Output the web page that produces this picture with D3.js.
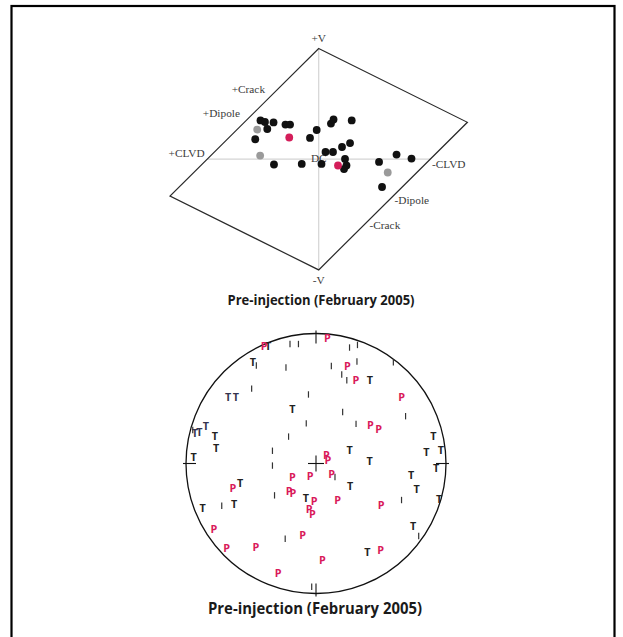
<!DOCTYPE html>
<html>
<head>
<meta charset="utf-8">
<script src="https://cdn.jsdelivr.net/npm/d3@7"></script>
<style>
  html, body { margin: 0; padding: 0; background: #fff; }
  svg { display: block; }
</style>
</head>
<body>
<svg id="chart" width="623" height="637"></svg>
<script>
// ---------- Hudson source-type plot data (u, v) ----------
const diamondCorners = [[0, 1], [4/3, 1/3], [0, -1], [-4/3, -1/3]];
const hudsonAxes = [[[0, 1], [0, -1]], [[-1, 0], [1, 0]]];
const hudsonLabels = [
  { text: "+V", u: 0, v: 1.06, anchor: "middle" },
  { text: "-V", u: 0, v: -1.125, anchor: "middle" },
  { text: "+Crack", u: -0.481, v: 0.598, anchor: "end" },
  { text: "+Dipole", u: -0.706, v: 0.377, anchor: "end" },
  { text: "+CLVD", u: -1.023, v: 0.020, anchor: "end" },
  { text: "-CLVD", u: 1.016, v: -0.075, anchor: "start" },
  { text: "-Dipole", u: 0.680, v: -0.405, anchor: "start" },
  { text: "-Crack", u: 0.456, v: -0.631, anchor: "start" },
  { text: "DC", u: -0.07, v: -0.025, anchor: "start" }
];
const hudsonBlackU = [-0.522, -0.482, -0.405, -0.461, -0.569, -0.298, -0.257, -0.078, -0.018, 0.110, 0.133, 0.296, 0.281, 0.209, 0.061, 0.128, -0.401, -0.152, 0.025, 0.236, 0.249, 0.227, 0.541, 0.698, 0.832, 0.568];
const hudsonBlackV = [0.350, 0.336, 0.332, 0.273, 0.180, 0.313, 0.313, 0.192, 0.264, 0.322, 0.359, 0.350, 0.146, 0.110, 0.065, 0.065, -0.048, -0.043, -0.043, 0.002, -0.057, -0.089, -0.025, 0.042, 0.006, -0.251];
const hudsonRedU = [-0.264, 0.173];
const hudsonRedV = [0.196, -0.057];
const hudsonGrayU = [-0.551, -0.525, 0.619];
const hudsonGrayV = [0.268, 0.033, -0.120];

// ---------- Stereonet (P / T axes) data, normalised to unit circle ----------
const tAxesX = [-0.486, -0.182, 0.414, -0.777, -0.769, -0.942, 0.258, 0.412, 0.902, 0.850, 0.960, 0.925, 0.732, 0.775, 0.948, 0.263, -0.077, -0.583, -0.872, -0.629, 0.748, 0.395, -0.368];
const tAxesY = [0.777, 0.422, 0.642, 0.212, 0.115, 0.048, 0.100, 0.017, 0.214, 0.087, 0.104, -0.038, -0.093, -0.199, -0.277, -0.171, -0.265, -0.152, -0.342, -0.310, -0.481, -0.685, 0.900];
const tNavyX = [-0.675, -0.616, -0.932, -0.898, -0.848];
const tNavyY = [0.508, 0.508, 0.237, 0.242, 0.284];
const pAxesX = [-0.398, 0.088, 0.241, 0.306, 0.658, 0.419, 0.482, 0.079, 0.092, 0.121, -0.046, -0.182, -0.640, -0.206, -0.177, -0.015, -0.052, -0.028, 0.167, 0.502, -0.102, -0.785, -0.688, -0.463, 0.498, 0.050, -0.291];
const pAxesY = [0.900, 0.964, 0.746, 0.640, 0.508, 0.298, 0.266, 0.067, 0.027, -0.078, -0.096, -0.108, -0.187, -0.216, -0.230, -0.290, -0.352, -0.388, -0.281, -0.319, -0.552, -0.504, -0.652, -0.644, -0.667, -0.745, -0.845];
const bAxesX = [-0.200, -0.135, -0.459, -0.231, 0.118, 0.258, 0.319, 0.315, 0.198, 0.237, 0.595, -0.495, -0.058, 0.205, 0.689, -0.075, 0.308, -0.211, -0.335, -0.948, -0.335, -0.319, -0.725, -0.237, 0.658, 0.790, -0.033, 0.146];
const bAxesY = [0.919, 0.919, 0.754, 0.738, 0.750, 0.892, 0.912, 0.785, 0.685, 0.640, 0.778, 0.576, 0.531, 0.396, 0.364, 0.309, 0.305, 0.207, 0.098, 0.258, -0.016, -0.245, -0.325, -0.579, -0.281, -0.558, -0.948, -0.104];
const compassDirs = [[0, 1], [1, 0], [0, -1], [-1, 0]];

const titles = ["Pre-injection (February 2005)", "Pre-injection (February 2005)"];

// ---------- Drawing ----------
const svg = d3.select("#chart");

// outer frame
svg.append("rect")
  .attr("x", 11.5).attr("y", 6)
  .attr("width", 603).attr("height", 640)
  .attr("fill", "none").attr("stroke", "#000").attr("stroke-width", 2.2);

// Hudson scales
const xH = d3.scaleLinear().domain([-4/3, 4/3]).range([170.0, 467.4]);
const yH = d3.scaleLinear().domain([-1, 1]).range([269.9, 48.5]);
const gH = svg.append("g");

const lineH = d3.line().x(d => xH(d[0])).y(d => yH(d[1]));
hudsonAxes.forEach(seg => {
  gH.append("path").attr("d", lineH(seg))
    .attr("fill", "none").attr("stroke", "#d4d4d4").attr("stroke-width", 1.2);
});
gH.append("path").attr("d", lineH(diamondCorners) + "Z")
  .attr("fill", "none").attr("stroke", "#2a2a2a").attr("stroke-width", 1.2);

gH.selectAll("text.hl").data(hudsonLabels).join("text")
  .attr("class", "hl")
  .attr("x", d => xH(d.u)).attr("y", d => yH(d.v))
  .attr("text-anchor", d => d.anchor)
  .attr("font-family", "'Liberation Serif', 'DejaVu Serif', serif")
  .attr("font-size", 11.3)
  .attr("fill", "#3a3a3a")
  .text(d => d.text);

function dots(us, vs, color) {
  gH.selectAll(null).data(us.map((u, i) => [u, vs[i]])).join("circle")
    .attr("cx", d => xH(d[0])).attr("cy", d => yH(d[1]))
    .attr("r", 3.9).attr("fill", color);
}
dots(hudsonGrayU, hudsonGrayV, "#9a9a9a");
dots(hudsonBlackU, hudsonBlackV, "#111");
dots(hudsonRedU, hudsonRedV, "#d41e5a");

svg.append("text")
  .attr("x", 321).attr("y", 305)
  .attr("text-anchor", "middle")
  .attr("font-family", "'Open Sans', 'Noto Sans', sans-serif")
  .attr("font-weight", 700).attr("font-size", 13.5)
  .attr("textLength", 187).attr("lengthAdjust", "spacingAndGlyphs")
  .attr("fill", "#1a1a1a")
  .text(titles[0]);

// Stereonet scales
const xS = d3.scaleLinear().domain([-1, 1]).range([186, 446]);
const yS = d3.scaleLinear().domain([-1, 1]).range([593.5, 333.5]);
const gS = svg.append("g");
const R = xS(1) - xS(0);

gS.append("circle")
  .attr("cx", xS(0)).attr("cy", yS(0)).attr("r", R)
  .attr("fill", "none").attr("stroke", "#111").attr("stroke-width", 1.3);

// centre cross
gS.append("line").attr("x1", xS(0) - 8).attr("x2", xS(0) + 8).attr("y1", yS(0)).attr("y2", yS(0))
  .attr("stroke", "#111").attr("stroke-width", 1.1);
gS.append("line").attr("x1", xS(0)).attr("x2", xS(0)).attr("y1", yS(0) - 8).attr("y2", yS(0) + 8)
  .attr("stroke", "#111").attr("stroke-width", 1.1);

// compass ticks
compassDirs.forEach(d => {
  const o = 1 + 3 / R, i = 1 - 10 / R;
  gS.append("line")
    .attr("x1", xS(d[0] * o)).attr("y1", yS(d[1] * o))
    .attr("x2", xS(d[0] * i)).attr("y2", yS(d[1] * i))
    .attr("stroke", "#111").attr("stroke-width", 1.1);
});

// B-axes (small dashes)
gS.selectAll(null).data(bAxesX.map((x, i) => [x, bAxesY[i]])).join("line")
  .attr("x1", d => xS(d[0])).attr("x2", d => xS(d[0]))
  .attr("y1", d => yS(d[1]) - 3.2).attr("y2", d => yS(d[1]) + 3.2)
  .attr("stroke", "#333").attr("stroke-width", 1.2);

function letters(xs, ys, ch, color) {
  gS.selectAll(null).data(xs.map((x, i) => [x, ys[i]])).join("text")
    .attr("x", d => xS(d[0])).attr("y", d => yS(d[1]) + 3.9)
    .attr("text-anchor", "middle")
    .attr("font-family", "'Open Sans', 'Noto Sans', sans-serif")
    .attr("font-weight", 700).attr("font-size", 10.8)
    .attr("fill", color)
    .text(ch);
}
letters(tAxesX, tAxesY, "T", "#222");
letters(tNavyX, tNavyY, "T", "#34344e");
letters(pAxesX, pAxesY, "P", "#d91a5a");

svg.append("text")
  .attr("x", 315).attr("y", 614)
  .attr("text-anchor", "middle")
  .attr("font-family", "'Open Sans', 'Noto Sans', sans-serif")
  .attr("font-weight", 700).attr("font-size", 15.5)
  .attr("textLength", 214).attr("lengthAdjust", "spacingAndGlyphs")
  .attr("fill", "#1a1a1a")
  .text(titles[1]);
</script>
</body>
</html>
